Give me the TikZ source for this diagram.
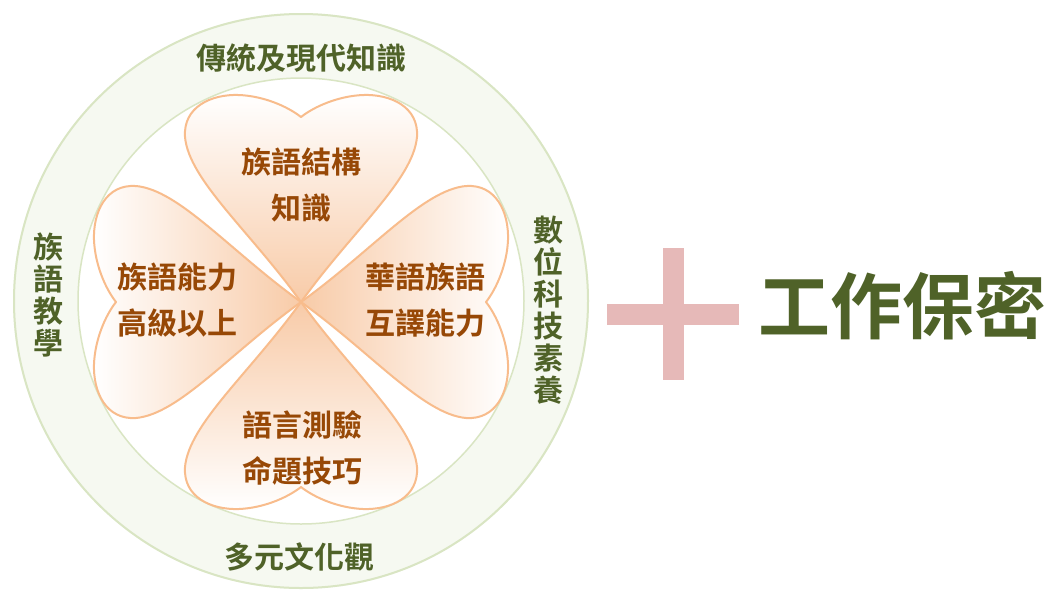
\documentclass[tikz,border=0pt]{standalone}
\usepackage{fontspec}
\newfontfamily\cjk{Noto Sans CJK TC Bold}
\usepackage{xcolor}
\usetikzlibrary{positioning}

\definecolor{ringtext}{HTML}{4F6228}
\definecolor{ringfill}{HTML}{F6F9F1}
\definecolor{ringline}{HTML}{D9E5C3}
\definecolor{petaltext}{HTML}{974806}
\definecolor{petalline}{HTML}{F8BC8C}
\definecolor{petalfill}{HTML}{F8CBA8}
\definecolor{plusfill}{HTML}{E6B9B8}

% one heart, tip at the origin, lobes pointing up
\newcommand{\petal}{(0,0) .. controls (52,-72) and (112,-122) .. (116,-165)
  .. controls (118,-195) and (90,-208) .. (62,-207)
  .. controls (38,-206) and (14,-196) .. (0,-185)
  .. controls (-14,-196) and (-38,-206) .. (-62,-207)
  .. controls (-90,-208) and (-118,-195) .. (-116,-165)
  .. controls (-112,-122) and (-52,-72) .. (0,0) -- cycle}

\begin{document}
\begin{tikzpicture}[
    x=1pt, y=-1pt,
    ringtxt/.style={font=\cjk\fontsize{30}{32}\selectfont, text=ringtext, align=center, inner sep=0pt},
    petaltxt/.style={font=\cjk\fontsize{30}{46}\selectfont, text=petaltext, align=center, inner sep=0pt},
    petalbox/.style={draw=petalline, line width=2pt, line join=round}
]
    \useasboundingbox (0,0) rectangle (1055,590);

    % Outer ring
    \fill[ringfill] (301,301) circle (288);
    \draw[ringline, line width=2pt] (301,301) circle (287);
    \fill[white] (301,301) circle (223);
    \draw[ringline, line width=1.5pt] (301,301) circle (223);

    % Ring labels
    \node[ringtxt] (know) at (301,58) {傳統及現代知識};
    \node[ringtxt] (culture) at (299,557) {多元文化觀};
    \node[ringtxt] (teach) at (48,295) {族\\語\\教\\學};
    \node[ringtxt] (digital) at (548,310) {數\\位\\科\\技\\素\\養};

    % Hearts
    \draw[petalbox, top color=white, bottom color=petalfill, shift={(301,302)}] \petal;
    \draw[petalbox, left color=white, right color=petalfill, shift={(301,302)}, rotate=90] \petal;
    \draw[petalbox, left color=petalfill, right color=white, shift={(301,302)}, rotate=-90] \petal;
    \draw[petalbox, top color=petalfill, bottom color=white, shift={(301,302)}, rotate=180] \petal;

    % Heart labels
    \node[petaltxt] (struct) at (301,185) {族語結構\\知識};
    \node[petaltxt] (level) at (177,300) {族語能力\\高級以上};
    \node[petaltxt] (transl) at (425,300) {華語族語\\互譯能力};
    \node[petaltxt] (test) at (302,448) {語言測驗\\命題技巧};

    % Plus and secrecy
    \fill[plusfill] (607,304) rectangle (739,325);
    \fill[plusfill] (663,248) rectangle (684,380);
    \node[font=\cjk\fontsize{72}{74}\selectfont, text=ringtext, inner sep=0pt] (secret) at (902,306) {工作保密};

\end{tikzpicture}
\end{document}
